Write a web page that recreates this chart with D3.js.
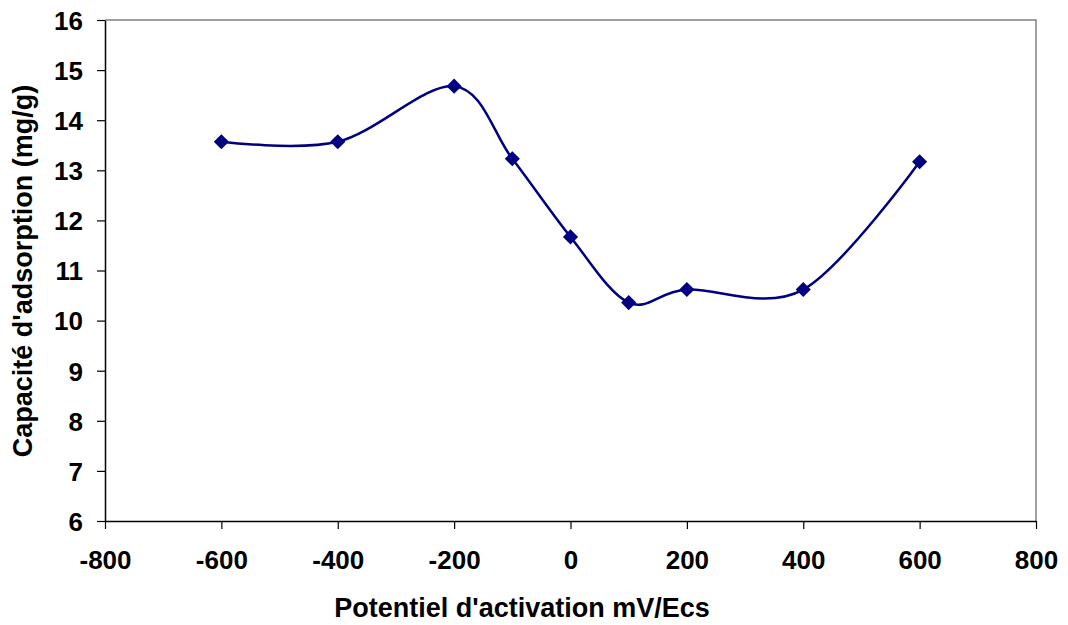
<!DOCTYPE html>
<html>
<head>
<meta charset="utf-8">
<script src="https://cdn.jsdelivr.net/npm/d3@7"></script>
<style>
  body { margin: 0; background: #fff; }
  text { font-family: "Liberation Sans", Arial, sans-serif; font-weight: bold; fill: #000; }
</style>
</head>
<body>
<svg id="chart" width="1068" height="625"></svg>
<script>
// data
const potentials = [-600, -400, -200, -100, 0, 100, 200, 400, 600];
const capacities = [13.57, 13.57, 14.68, 13.23, 11.67, 10.36, 10.62, 10.62, 13.17];
const xTicks = [-800, -600, -400, -200, 0, 200, 400, 600, 800];
const yTicks = [6, 7, 8, 9, 10, 11, 12, 13, 14, 15, 16];
const xTitle = "Potentiel d'activation mV/Ecs";
const yTitle = "Capacité d'adsorption (mg/g)";

const svg = d3.select("#chart");
const plotLeft = 105, plotRight = 1036, plotTop = 20, plotBottom = 521;
const navy = "#000080";

const x = d3.scaleLinear().domain([-800, 800]).range([plotLeft, plotRight]);
const y = d3.scaleLinear().domain([6, 16]).range([plotBottom, plotTop]);

// plot area border (top + right are gray)
svg.append("path")
    .attr("d", `M${plotLeft},${plotTop}H${plotRight}V${plotBottom}`)
    .attr("fill", "none")
    .attr("stroke", "#808080")
    .attr("stroke-width", 1.5);

const xAxis = svg.append("g")
    .attr("transform", `translate(0,${plotBottom})`)
    .call(d3.axisBottom(x).tickValues(xTicks).tickFormat(d => String(d))
        .tickSize(8).tickPadding(22).tickSizeOuter(0));

const yAxis = svg.append("g")
    .attr("transform", `translate(${plotLeft},0)`)
    .call(d3.axisLeft(y).tickValues(yTicks).tickSize(8).tickPadding(14).tickSizeOuter(0));

[xAxis, yAxis].forEach(g => {
    g.select(".domain").attr("stroke", "#000").attr("stroke-width", 1.5);
    g.selectAll(".tick line").attr("stroke", "#000").attr("stroke-width", 1.2);
    g.selectAll(".tick text")
        .attr("font-family", "Liberation Sans, Arial, sans-serif")
        .attr("font-weight", "bold")
        .attr("font-size", 26)
        .attr("fill", "#000");
});
yAxis.selectAll(".tick text").attr("dy", "0.36em");

// smoothed line like Excel's
const line = d3.line()
    .x(d => x(d[0]))
    .y(d => y(d[1]))
    .curve(d3.curveCatmullRom.alpha(0));

const pts = potentials.map((p, i) => [p, capacities[i]]);

svg.append("path")
    .datum(pts)
    .attr("d", line)
    .attr("fill", "none")
    .attr("stroke", navy)
    .attr("stroke-width", 2.5);

svg.selectAll(".marker")
    .data(pts)
    .enter().append("path")
    .attr("class", "marker")
    .attr("transform", d => `translate(${x(d[0])},${y(d[1])}) rotate(45)`)
    .attr("d", d3.symbol().type(d3.symbolSquare).size(115))
    .attr("fill", navy);

svg.append("text")
    .attr("x", 522)
    .attr("y", 617)
    .attr("text-anchor", "middle")
    .attr("font-size", 27)
    .text(xTitle);

svg.append("text")
    .attr("transform", `translate(32,271) rotate(-90)`)
    .attr("text-anchor", "middle")
    .attr("font-size", 27)
    .text(yTitle);
</script>
</body>
</html>
